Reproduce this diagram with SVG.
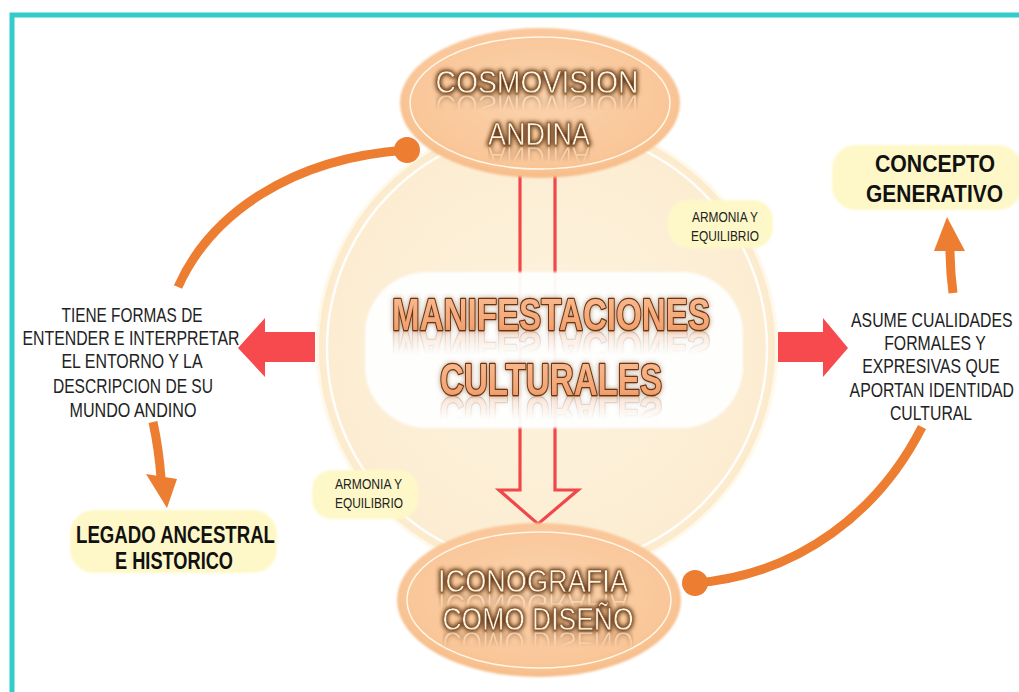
<svg xmlns="http://www.w3.org/2000/svg" xmlns:xlink="http://www.w3.org/1999/xlink" width="1019" height="692" viewBox="0 0 1019 692">
<defs>
<style>
.lbl{font-family:"Liberation Sans",Arial,sans-serif;font-size:20px;fill:#222;text-anchor:middle}
.small{font-family:"Liberation Sans",Arial,sans-serif;font-size:14px;fill:#222;text-anchor:middle}
.bold{font-family:"Liberation Sans",Arial,sans-serif;font-weight:bold;fill:#111;text-anchor:middle}
.ell{font-family:"Liberation Sans",Arial,sans-serif;font-size:31px;fill:#FFF5DE;stroke:#6A3712;stroke-width:0.5;text-anchor:middle;filter:url(#glow)}
.big{font-family:"Liberation Sans",Arial,sans-serif;font-weight:bold;font-size:44px;fill:url(#gBig);stroke:#6E320C;stroke-width:2.6;paint-order:stroke;stroke-linejoin:round;text-anchor:middle;filter:url(#shadow)}
.conn{fill:none;stroke:#ED7D31;stroke-width:9}
.orange{fill:#ED7D31}
.red{fill:#F74A4E}
.box{fill:#FEF8C8;filter:url(#soft)}
</style>
<radialGradient id="gPeach" cx="50%" cy="45%" r="55%">
<stop offset="0" stop-color="#FBD3AE"/>
<stop offset="0.85" stop-color="#F9C698"/>
<stop offset="1" stop-color="#F7BC88"/>
</radialGradient>
<radialGradient id="gCream" cx="50%" cy="50%" r="50%">
<stop offset="0" stop-color="#FDF3DF"/>
<stop offset="0.95" stop-color="#FCEDD2"/>
<stop offset="1" stop-color="#FCEACB"/>
</radialGradient>
<linearGradient id="gBig" x1="0" y1="0" x2="0" y2="1">
<stop offset="0" stop-color="#F9BE96"/>
<stop offset="1" stop-color="#EF9A66"/>
</linearGradient>
<linearGradient id="gFade" x1="0" y1="0" x2="0" y2="1">
<stop offset="0" stop-color="#fff" stop-opacity="0.5"/>
<stop offset="0.65" stop-color="#fff" stop-opacity="0"/>
</linearGradient>
<mask id="mFade" maskContentUnits="objectBoundingBox">
<rect x="0" y="0" width="1" height="1" fill="url(#gFade)"/>
</mask>
<filter id="glow" x="-10%" y="-40%" width="120%" height="180%">
<feMorphology in="SourceAlpha" operator="dilate" radius="0.8" result="d"/>
<feGaussianBlur in="d" stdDeviation="2" result="b"/>
<feFlood flood-color="#5E300C"/>
<feComposite in2="b" operator="in" result="g"/>
<feMerge><feMergeNode in="g"/><feMergeNode in="SourceGraphic"/></feMerge>
</filter>
<filter id="shadow" x="-10%" y="-40%" width="120%" height="180%">
<feGaussianBlur in="SourceAlpha" stdDeviation="2.5" result="b"/>
<feFlood flood-color="#7A4A20" flood-opacity="0.55"/>
<feComposite in2="b" operator="in" result="g"/>
<feMerge><feMergeNode in="g"/><feMergeNode in="SourceGraphic"/></feMerge>
</filter>
<filter id="soft" x="-10%" y="-10%" width="120%" height="120%">
<feGaussianBlur stdDeviation="1.2"/>
</filter>
</defs>

<rect width="1019" height="692" fill="#fff"/>
<path d="M12,692 V15 H1019" fill="none" stroke="#33CCCC" stroke-width="5"/>

<g id="circle-bg">
<circle cx="547" cy="348" r="231" fill="#FEF7E6" filter="url(#soft)"/>
<circle cx="547" cy="348" r="228" fill="url(#gCream)"/>
<circle cx="547" cy="348" r="220" fill="none" stroke="#fff" stroke-width="2.5" opacity="0.9"/>
</g>

<g id="connectors">
<path d="M520,170 V490 H499 L538,524 L578,490 H555 V170 Z" fill="none" stroke="#F0474B" stroke-width="3.2" stroke-linejoin="miter"/>
<polygon class="red" points="315,332 265,332 265,318 238,348 265,377 265,362 315,362"/>
<polygon class="red" points="778,332 823,332 823,318 848,348 823,377 823,362 778,362"/>
<path class="conn" d="M178,287 C210,215 290,158 407,150"/>
<circle class="orange" cx="407" cy="150" r="13"/>
<path class="conn" d="M153,422 Q159,450 161,478" stroke-width="10"/>
<polygon class="orange" points="146,474 177,479 167,508"/>
<path class="conn" d="M953,293 Q950,270 950,248" stroke-width="10"/>
<polygon class="orange" points="934,251 965,251 947,217"/>
<path class="conn" d="M922,427 C880,510 800,575 695,583"/>
<circle class="orange" cx="695" cy="583" r="13"/>
</g>

<g id="manifestaciones">
<rect x="365" y="272" width="378" height="156" rx="62" fill="#fff" opacity="0.96" filter="url(#soft)"/>
<text id="tM1" class="big" x="551" y="330" textLength="318" lengthAdjust="spacingAndGlyphs">MANIFESTACIONES</text>
<g mask="url(#mFade)" opacity="0.8"><use xlink:href="#tM1" transform="translate(0,662) scale(1,-1)"/></g>
<text id="tM2" class="big" x="551" y="395" textLength="222" lengthAdjust="spacingAndGlyphs">CULTURALES</text>
<g mask="url(#mFade)" opacity="0.8"><use xlink:href="#tM2" transform="translate(0,792) scale(1,-1)"/></g>
</g>

<g id="cosmovision">
<ellipse cx="540" cy="103" rx="140" ry="75" fill="url(#gPeach)" filter="url(#soft)"/>
<ellipse cx="540" cy="103" rx="130" ry="66" fill="none" stroke="#FFF6E8" stroke-width="1.5"/>
<text id="tC1" class="ell" x="537" y="93" textLength="203" lengthAdjust="spacingAndGlyphs" font-size="32">COSMOVISION</text>
<g mask="url(#mFade)"><use xlink:href="#tC1" transform="translate(0,188) scale(1,-1)"/></g>
<text id="tC2" class="ell" x="539" y="145" textLength="102" lengthAdjust="spacingAndGlyphs">ANDINA</text>
<g mask="url(#mFade)"><use xlink:href="#tC2" transform="translate(0,292) scale(1,-1)"/></g>
</g>

<g id="iconografia">
<ellipse cx="539" cy="600" rx="142" ry="77" fill="url(#gPeach)" filter="url(#soft)"/>
<ellipse cx="539" cy="600" rx="132" ry="68" fill="none" stroke="#FFF6E8" stroke-width="1.5"/>
<text id="tI1" class="ell" x="533" y="592" textLength="190" lengthAdjust="spacingAndGlyphs">ICONOGRAFIA</text>
<g mask="url(#mFade)"><use xlink:href="#tI1" transform="translate(0,1186) scale(1,-1)"/></g>
<text id="tI2" class="ell" x="538" y="630" textLength="191" lengthAdjust="spacingAndGlyphs">COMO DISEÑO</text>
<g mask="url(#mFade)"><use xlink:href="#tI2" transform="translate(0,1262) scale(1,-1)"/></g>
</g>

<g id="armonia-top">
<rect class="box" x="668" y="200" width="105" height="48" rx="20"/>
<text class="small" x="725" y="222" textLength="66" lengthAdjust="spacingAndGlyphs">ARMONIA Y</text>
<text class="small" x="725" y="241" textLength="68" lengthAdjust="spacingAndGlyphs">EQUILIBRIO</text>
</g>

<g id="armonia-bottom">
<rect class="box" x="312" y="470" width="106" height="49" rx="20"/>
<text class="small" x="368.5" y="489" textLength="67" lengthAdjust="spacingAndGlyphs">ARMONIA Y</text>
<text class="small" x="369" y="508" textLength="68" lengthAdjust="spacingAndGlyphs">EQUILIBRIO</text>
</g>

<g id="concepto">
<rect class="box" x="832" y="145" width="190" height="65" rx="24"/>
<text class="bold" x="935" y="172" font-size="23" textLength="120" lengthAdjust="spacingAndGlyphs">CONCEPTO</text>
<text class="bold" x="934.5" y="202" font-size="23" textLength="137" lengthAdjust="spacingAndGlyphs">GENERATIVO</text>
</g>

<g id="legado">
<rect class="box" x="70" y="510" width="207" height="63" rx="24"/>
<text class="bold" x="175.5" y="543" font-size="24" textLength="199" lengthAdjust="spacingAndGlyphs">LEGADO ANCESTRAL</text>
<text class="bold" x="174" y="569" font-size="24" textLength="118" lengthAdjust="spacingAndGlyphs">E HISTORICO</text>
</g>

<g id="texto-izquierda">
<text class="lbl" x="132" y="322" textLength="141" lengthAdjust="spacingAndGlyphs">TIENE FORMAS DE</text>
<text class="lbl" x="131" y="345" textLength="217" lengthAdjust="spacingAndGlyphs">ENTENDER E INTERPRETAR</text>
<text class="lbl" x="132" y="368" textLength="141" lengthAdjust="spacingAndGlyphs">EL ENTORNO Y LA</text>
<text class="lbl" x="133" y="393" textLength="160" lengthAdjust="spacingAndGlyphs">DESCRIPCION DE SU</text>
<text class="lbl" x="133" y="417" textLength="127" lengthAdjust="spacingAndGlyphs">MUNDO ANDINO</text>
</g>

<g id="texto-derecha" transform="translate(931 0) scale(0.79 1)">
<text class="lbl" x="1" y="327">ASUME CUALIDADES</text>
<text class="lbl" x="5" y="350">FORMALES Y</text>
<text class="lbl" x="0" y="373">EXPRESIVAS QUE</text>
<text class="lbl" x="1" y="397">APORTAN IDENTIDAD</text>
<text class="lbl" x="0" y="420">CULTURAL</text>
</g>
</svg>
